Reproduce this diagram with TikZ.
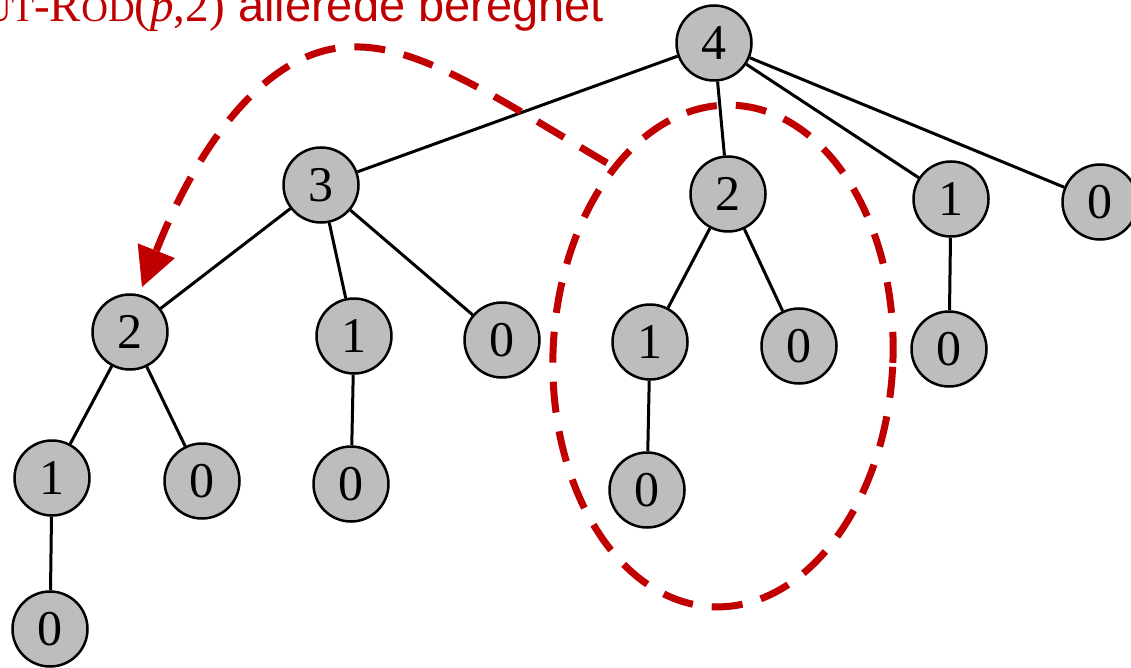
\documentclass[tikz,border=0pt]{standalone}
\usepackage{fontspec}
\setmainfont{Liberation Serif}
\newfontfamily\sansf{Liberation Sans}
\usetikzlibrary{arrows.meta}
\definecolor{hlred}{HTML}{C00000}
\definecolor{nodegray}{HTML}{BDBDBD}
\tikzset{
  tnode/.style={circle, draw=black, line width=2.5pt, fill=nodegray, minimum size=75pt, inner sep=0pt,
    font=\fontsize{50}{50}\selectfont},
  tedge/.style={line width=3pt, black},
  reddash/.style={draw=hlred, line width=7pt, dash pattern=on 31pt off 19pt},
}
\begin{document}
\begin{tikzpicture}[x=1pt, y=-1pt]
\useasboundingbox (0,0) rectangle (1131,668);
% nodes
\node[tnode] (n4)  at (714,43)  {4};
\node[tnode] (n3)  at (321,185) {3};
\node[tnode] (n2a) at (728,194) {2};
\node[tnode] (n1a) at (951,199) {1};
\node[tnode] (n0a) at (1100,202) {0};
\node[tnode] (n2b) at (130,332) {2};
\node[tnode] (n1b) at (354,336) {1};
\node[tnode] (n0b) at (502,340) {0};
\node[tnode] (n1c) at (650,342) {1};
\node[tnode] (n0c) at (799,346) {0};
\node[tnode] (n0d) at (949,349) {0};
\node[tnode] (n1d) at (52,478)  {1};
\node[tnode] (n0e) at (202,481) {0};
\node[tnode] (n0f) at (351,484) {0};
\node[tnode] (n0g) at (647,490) {0};
\node[tnode] (n0h) at (50,629)  {0};
% edges
\draw[tedge] (n4) -- (n3);
\draw[tedge] (n4) -- (n2a);
\draw[tedge] (n4) -- (n1a);
\draw[tedge] (n4) -- (n0a);
\draw[tedge] (n3) -- (n2b);
\draw[tedge] (n3) -- (n1b);
\draw[tedge] (n3) -- (n0b);
\draw[tedge] (n2a) -- (n1c);
\draw[tedge] (n2a) -- (n0c);
\draw[tedge] (n1a) -- (n0d);
\draw[tedge] (n2b) -- (n1d);
\draw[tedge] (n2b) -- (n0e);
\draw[tedge] (n1b) -- (n0f);
\draw[tedge] (n1c) -- (n0g);
\draw[tedge] (n1d) -- (n0h);
% highlight ellipse
\coordinate (ec) at (723,356);
\draw[reddash, rotate around={-2.3:(ec)}] (ec) ellipse [x radius=170pt, y radius=251pt];
% arrow
\coordinate (as) at (607,163);
\coordinate (ap) at (353,47);
\coordinate (at) at (142,287);
\draw[reddash, -{Triangle[length=39pt,width=40pt,fill=hlred,line width=0pt]}]
  (as) .. controls (500,100) and (420,45) .. (ap)
       .. controls (270,47) and (200,140) .. (at);
% label
\node[anchor=base east, inner sep=0pt, text=hlred, font=\fontsize{47}{47}\selectfont] (lab1) at (225,22)
  {C{\fontsize{37}{37}\selectfont UT}-R{\fontsize{37}{37}\selectfont OD}(\textit{p},2)};
\node[anchor=base west, inner sep=0pt, text=hlred, font=\sansf\fontsize{47}{47}\selectfont] (lab2) at (238,22)
  {allerede beregnet};
\end{tikzpicture}
\end{document}
